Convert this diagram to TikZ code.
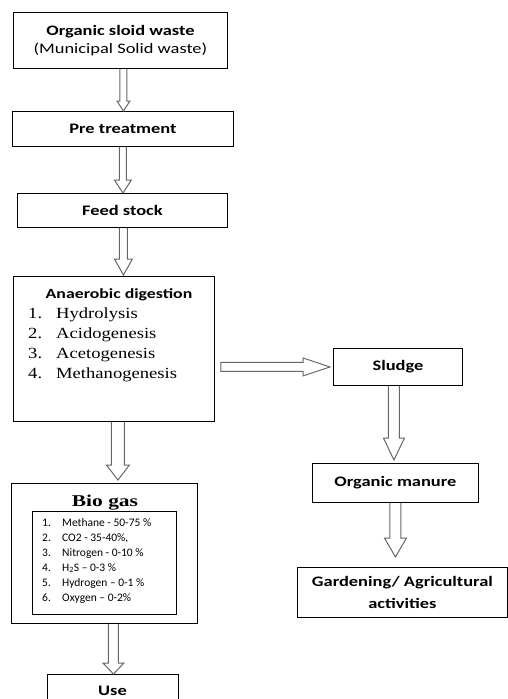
\documentclass[tikz,border=0pt]{standalone}
\usepackage{fontspec}
\usetikzlibrary{calc}
\newfontfamily\calb{Carlito}[FakeStretch=1.27]
\newfontfamily\calr{Carlito}
\newfontfamily\timesx{Liberation Serif}[FakeStretch=1.2]
\newfontfamily\timesb{Liberation Serif}[FakeStretch=1.3]
\newcommand\blkdown[5]{%
  \draw[barrow] let \p1=(#1), \p2=(#2) in
    (\x1-#3pt,\y1) -- (\x1-#3pt,\y2+#5pt) -- (\x1-#4pt,\y2+#5pt) -- (\x1,\y2)
    -- (\x1+#4pt,\y2+#5pt) -- (\x1+#3pt,\y2+#5pt) -- (\x1+#3pt,\y1);}
\newcommand\blkright[5]{%
  \draw[barrow] let \p1=(#1), \p2=(#2) in
    (\x1,\y1+#3pt) -- (\x2-#5pt,\y1+#3pt) -- (\x2-#5pt,\y1+#4pt) -- (\x2,\y1)
    -- (\x2-#5pt,\y1-#4pt) -- (\x2-#5pt,\y1-#3pt) -- (\x1,\y1-#3pt) -- cycle;}
\begin{document}
\begin{tikzpicture}[x=1pt,y=-1pt,
  box/.style={draw=black, line width=0.9pt, inner sep=0pt, anchor=north west, align=center,
    font=\calb\fontsize{14.5}{18}\selectfont},
  barrow/.style={draw=black!60, line width=1pt, line join=miter},
  ttl/.style={inner sep=0pt, anchor=base, font=\calb\bfseries\fontsize{14}{17}\selectfont},
  itm/.style={inner sep=0pt, anchor=base west, font=\timesx\fontsize{15.5}{18}\selectfont},
  gas/.style={inner sep=0pt, anchor=base west, font=\calr\fontsize{11.5}{14}\selectfont}]
\useasboundingbox (0,0) rectangle (508,699);
\clip (0,0) rectangle (508,699);
% boxes
\node[box, minimum width=214pt, minimum height=56pt] (b1) at (13,12)
  {\textbf{Organic sloid waste}\\(Municipal Solid waste)};
\node[box, minimum width=221pt, minimum height=35pt] (b2) at (12,111) {\textbf{Pre treatment}};
\node[box, minimum width=210pt, minimum height=34pt] (b3) at (17,193) {\textbf{Feed stock}};
\node[box, minimum width=201pt, minimum height=145pt] (ad) at (13,276) {};
\node[box, minimum width=186pt, minimum height=140pt] (bg) at (11,483) {};
\node[box, minimum width=144pt, minimum height=103pt] (gl) at (32,511) {};
\node[box, minimum width=131pt, minimum height=40pt] (use) at (47,674) {};
\node[inner sep=0pt, anchor=base, font=\calb\bfseries\fontsize{14.5}{18}\selectfont] (uset) at (112.5,695) {Use};
\node[box, minimum width=129pt, minimum height=37pt] (sl) at (333,348) {\textbf{Sludge}};
\node[box, minimum width=166pt, minimum height=39pt] (om) at (312,463) {\textbf{Organic manure}};
\node[box, minimum width=210pt, minimum height=50pt, font=\calb\fontsize{14.5}{22}\selectfont] (gd) at (297,567)
  {\textbf{Gardening/ Agricultural}\\\textbf{activities}};
% anaerobic digestion text
\node[ttl] (adt) at (119,298) {Anaerobic digestion};
\foreach \n/\t/\y in {1/Hydrolysis/318, 2/Acidogenesis/338, 3/Acetogenesis/358, 4/Methanogenesis/378}{
  \node[itm] (adn\n) at (28,\y) {\n.};
  \node[itm] (adi\n) at (56,\y) {\t};
}
% bio gas text
\node[inner sep=0pt, anchor=base, font=\timesb\bfseries\fontsize{16.5}{18}\selectfont] (bgt) at (105,506.5) {Bio gas};
\foreach \n/\t/\y in {1/{Methane - 50-75 \%}/526, 2/{CO2 - 35-40\%,}/541, 3/{Nitrogen - 0-10 \%}/556,
  4/{H\textsubscript{2}S – 0-3 \%}/571, 5/{Hydrogen – 0-1 \%}/586, 6/{Oxygen – 0-2\%}/601}{
  \node[gas] (gn\n) at (42,\y) {\n.};
  \node[gas] (gi\n) at (62,\y) {\t};
}
% block arrows
\blkdown{$(b1.south)+(3,0)$}{b2.north}{3.5}{6.5}{10}
\blkdown{b2.south}{b3.north}{3.5}{8.5}{13}
\blkdown{$(b3.south)+(1,0)$}{$(ad.north)+(0,-1)$}{4}{9}{16}
\blkdown{$(ad.south)+(4,0)$}{$(bg.north)+(0,-3)$}{6.5}{11.5}{15}
\blkdown{$(bg.south)+(9,0)$}{use.north}{5}{10.5}{11}
\blkright{$(ad.east|-sl.west)+(6,0)$}{$(sl.west)+(-3,0)$}{4.5}{9}{27}
\blkdown{$(sl.south)+(-4,0)$}{$(om.north)+(0,-3)$}{5.5}{10.5}{22}
\blkdown{om.south}{$(gd.north)+(0,-10)$}{5.5}{11}{19}
\end{tikzpicture}
\end{document}
